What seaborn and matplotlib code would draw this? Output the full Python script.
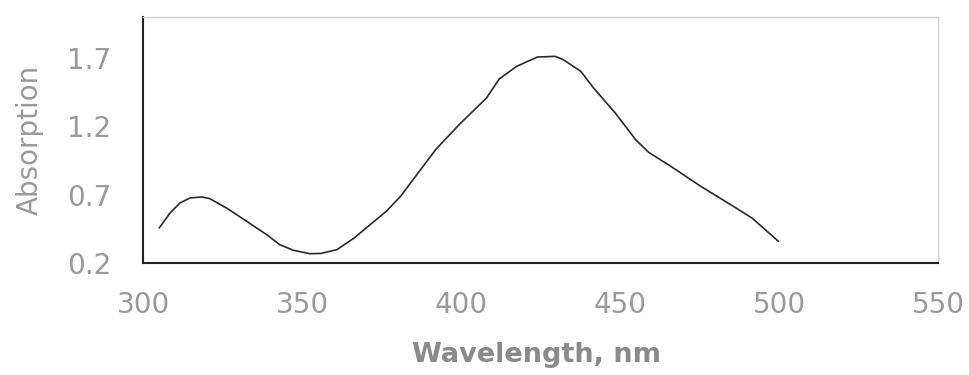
import matplotlib
matplotlib.use("Agg")
import matplotlib.pyplot as plt
import seaborn as sns
import pandas as pd

wavelength = [305.1, 308.5, 311.6, 314.8, 318.5, 321.0, 326.3, 332.6, 338.9, 343.0,
              347.3, 352.5, 356.0, 361.0, 366.4, 376.5, 381.0, 392.0, 399.4, 408.0,
              412.0, 417.5, 424.0, 429.6, 432.0, 437.7, 441.7, 448.5, 455.0, 459.0,
              466.0, 475.4, 484.8, 491.5, 499.8]
absorption = [0.456, 0.566, 0.639, 0.676, 0.683, 0.671, 0.602, 0.505, 0.407, 0.334,
              0.293, 0.268, 0.270, 0.298, 0.383, 0.578, 0.688, 1.029, 1.212, 1.407,
              1.546, 1.639, 1.707, 1.712, 1.690, 1.602, 1.480, 1.298, 1.100, 1.010,
              0.907, 0.761, 0.627, 0.529, 0.359]
x_ticks = [300, 350, 400, 450, 500, 550]
y_ticks = [0.2, 0.7, 1.2, 1.7]

df = pd.DataFrame({"Wavelength": wavelength, "Absorption": absorption})

sns.set_style("white")
plt.rcParams["font.family"] = ["DejaVu Sans"]

fig = plt.figure(figsize=(9.7, 3.75), dpi=100)
ax = fig.add_axes([143 / 970, 1 - 263 / 375, (938 - 143) / 970, (263 - 17) / 375])

sns.lineplot(data=df, x="Wavelength", y="Absorption", ax=ax, color="#2a2a2a",
             linewidth=1.2, sort=False)

ax.set_xlim(300, 550)
ax.set_ylim(0.2, 2.0)
ax.set_xticks(x_ticks)
ax.set_yticks(y_ticks)
ax.set_xticklabels([str(t) for t in x_ticks])
ax.set_yticklabels([f"{t:.1f}" for t in y_ticks])

tick_color = "#9a9a9a"
ax.tick_params(axis="both", which="major", direction="out", length=8.5, width=1.3,
               color="#222222", labelcolor=tick_color, labelsize=20)
ax.tick_params(axis="x", pad=12)
ax.tick_params(axis="y", pad=14.5)

for side in ["left", "bottom"]:
    ax.spines[side].set_color("#222222")
    ax.spines[side].set_linewidth(1.5)
for side in ["top", "right"]:
    ax.spines[side].set_color("#cfcfcf")
    ax.spines[side].set_linewidth(1.0)

ax.set_xlabel("Wavelength, nm", fontsize=19.5, color="#8a8a8a", fontweight="bold")
ax.set_ylabel("Absorption", fontsize=20, color="#9a9a9a")
ax.xaxis.label.set_va("center")
ax.xaxis.set_label_coords(0.495, -0.375)
ax.yaxis.set_label_coords(-0.125, 0.5)

fig.savefig("out.png", dpi=100)
